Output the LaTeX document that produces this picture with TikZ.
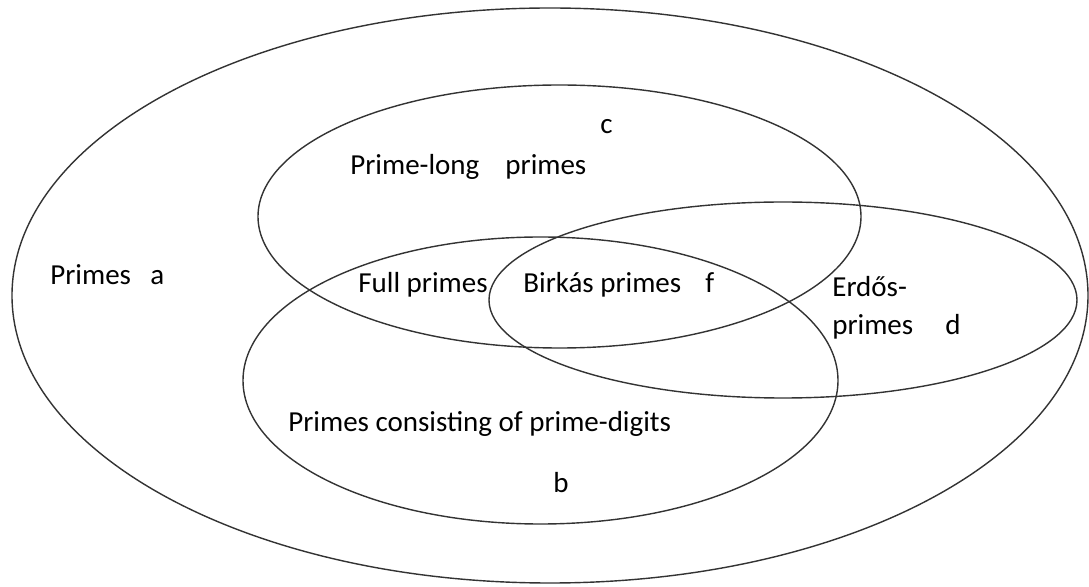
\documentclass[tikz,border=0pt]{standalone}
\usepackage{fontspec}
\setmainfont{Carlito}
\usetikzlibrary{positioning}
\tikzset{
  setring/.style={draw=black!80, line width=0.8pt},
  setlabel/.style={anchor=base west, inner sep=0pt, font=\fontsize{16.5}{19}\selectfont},
}

\begin{document}
\begin{tikzpicture}[x=0.02cm, y=-0.02cm]
  \useasboundingbox (0,0) rectangle (1089,587);
  % the sets
  \draw[setring] (550,295.5) ellipse [x radius=538, y radius=287.5];
  \draw[setring] (559.5,216.5) ellipse [x radius=301.5, y radius=131.5];
  \draw[setring] (540.5,380.5) ellipse [x radius=297.5, y radius=143.5];
  \draw[setring] (783,300) ellipse [x radius=294, y radius=98];
  % names
  \node[setlabel] (primes) at (50,285) {Primes};
  \node[setlabel] (a) at (150,285) {a};
  \node[setlabel] (primelong) at (350,175) {Prime-long\hspace{0.9em}primes};
  \node[setlabel] (c) at (600,134) {c};
  \node[setlabel] (full) at (358,293) {Full primes};
  \node[setlabel] (birkas) at (523,293) {Birkás primes};
  \node[setlabel] (f) at (705,293) {f};
  \node[setlabel] (erdos) at (832,297) {Erdős-};
  \node[setlabel] (erdos2) at (832,335) {primes};
  \node[setlabel] (d) at (945,335) {d};
  \node[setlabel] (digits) at (288,432) {Primes consisting of prime-digits};
  \node[setlabel] (b) at (553,493) {b};
\end{tikzpicture}
\end{document}
